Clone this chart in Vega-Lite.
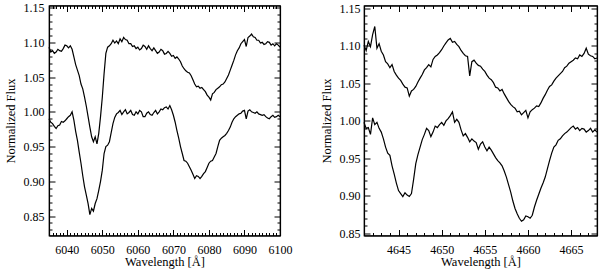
{
"$schema":"https://vega.github.io/schema/vega-lite/v6.json",
"padding":{"left":3,"top":0.5,"right":3,"bottom":0},
"spacing":84,
"bounds":"flush",
"config":{"font":"Liberation Serif, Times New Roman, serif","view":{"stroke":"black","strokeWidth":1.2},
"axis":{"labelFont":"Liberation Serif, Times New Roman, serif","titleFont":"Liberation Serif, Times New Roman, serif","labelFontSize":12,"titleFontSize":12.5,"titleFontWeight":"normal","labelColor":"black","titleColor":"black","tickColor":"black","domainColor":"black","grid":false,"labelOverlap":false,"labelFlush":false,"tickWidth":1,"domainWidth":1.2}},
"datasets":{
"a":[
{"w":6035,"u":1.093,"l":0.990},{"w":6035.5,"u":1.086,"l":0.985},{"w":6036,"u":1.088,"l":0.983},{"w":6036.5,"u":1.084,"l":0.979},{"w":6037,"u":1.086,"l":0.976},{"w":6037.5,"u":1.090,"l":0.980},{"w":6038,"u":1.088,"l":0.981},{"w":6038.5,"u":1.087,"l":0.986},{"w":6039,"u":1.091,"l":0.985},{"w":6039.5,"u":1.096,"l":0.987},{"w":6040,"u":1.095,"l":0.990},{"w":6040.5,"u":1.092,"l":0.993},{"w":6041,"u":1.095,"l":0.995},{"w":6041.5,"u":1.090,"l":1.000},{"w":6042,"u":1.079,"l":0.988},{"w":6042.5,"u":1.068,"l":0.972},{"w":6043,"u":1.060,"l":0.959},{"w":6043.5,"u":1.052,"l":0.942},{"w":6044,"u":1.040,"l":0.926},{"w":6044.5,"u":1.033,"l":0.908},{"w":6045,"u":1.021,"l":0.892},{"w":6045.5,"u":1.008,"l":0.880},{"w":6046,"u":0.993,"l":0.868},{"w":6046.5,"u":0.978,"l":0.852},{"w":6047,"u":0.964,"l":0.861},{"w":6047.5,"u":0.957,"l":0.857},{"w":6048,"u":0.964,"l":0.868},{"w":6048.5,"u":0.954,"l":0.875},{"w":6049,"u":0.969,"l":0.887},{"w":6049.5,"u":0.993,"l":0.900},{"w":6050,"u":1.021,"l":0.916},{"w":6050.5,"u":1.055,"l":0.940},{"w":6051,"u":1.084,"l":0.950},{"w":6051.5,"u":1.093,"l":0.952},{"w":6052,"u":1.095,"l":0.957},{"w":6052.5,"u":1.098,"l":0.970},{"w":6053,"u":1.103,"l":0.983},{"w":6053.5,"u":1.099,"l":0.992},{"w":6054,"u":1.102,"l":0.997},{"w":6054.5,"u":1.098,"l":0.999},{"w":6055,"u":1.105,"l":1.002},{"w":6055.5,"u":1.101,"l":0.996},{"w":6056,"u":1.107,"l":1.000},{"w":6056.5,"u":1.104,"l":1.003},{"w":6057,"u":1.103,"l":0.997},{"w":6057.5,"u":1.098,"l":0.999},{"w":6058,"u":1.098,"l":1.002},{"w":6058.5,"u":1.094,"l":0.996},{"w":6059,"u":1.095,"l":0.995},{"w":6059.5,"u":1.091,"l":1.000},{"w":6060,"u":1.093,"l":0.997},{"w":6060.5,"u":1.089,"l":1.002},{"w":6061,"u":1.091,"l":1.000},{"w":6061.5,"u":1.096,"l":0.993},{"w":6062,"u":1.094,"l":0.993},{"w":6062.5,"u":1.090,"l":0.998},{"w":6063,"u":1.095,"l":1.000},{"w":6063.5,"u":1.091,"l":0.996},{"w":6064,"u":1.088,"l":0.995},{"w":6064.5,"u":1.092,"l":0.999},{"w":6065,"u":1.088,"l":1.002},{"w":6065.5,"u":1.084,"l":0.997},{"w":6066,"u":1.086,"l":1.000},{"w":6066.5,"u":1.090,"l":1.004},{"w":6067,"u":1.088,"l":1.003},{"w":6067.5,"u":1.083,"l":1.006},{"w":6068,"u":1.084,"l":1.007},{"w":6068.5,"u":1.087,"l":1.004},{"w":6069,"u":1.084,"l":1.009},{"w":6069.5,"u":1.080,"l":1.003},{"w":6070,"u":1.081,"l":0.995},{"w":6070.5,"u":1.077,"l":0.985},{"w":6071,"u":1.079,"l":0.973},{"w":6071.5,"u":1.076,"l":0.962},{"w":6072,"u":1.072,"l":0.950},{"w":6072.5,"u":1.066,"l":0.940},{"w":6073,"u":1.062,"l":0.930},{"w":6073.5,"u":1.059,"l":0.929},{"w":6074,"u":1.057,"l":0.926},{"w":6074.5,"u":1.056,"l":0.921},{"w":6075,"u":1.052,"l":0.916},{"w":6075.5,"u":1.046,"l":0.910},{"w":6076,"u":1.040,"l":0.904},{"w":6076.5,"u":1.036,"l":0.908},{"w":6077,"u":1.037,"l":0.907},{"w":6077.5,"u":1.034,"l":0.904},{"w":6078,"u":1.035,"l":0.907},{"w":6078.5,"u":1.032,"l":0.911},{"w":6079,"u":1.029,"l":0.914},{"w":6079.5,"u":1.024,"l":0.920},{"w":6080,"u":1.021,"l":0.926},{"w":6080.5,"u":1.017,"l":0.929},{"w":6081,"u":1.026,"l":0.930},{"w":6081.5,"u":1.028,"l":0.935},{"w":6082,"u":1.032,"l":0.940},{"w":6082.5,"u":1.034,"l":0.950},{"w":6083,"u":1.036,"l":0.959},{"w":6083.5,"u":1.039,"l":0.962},{"w":6084,"u":1.040,"l":0.964},{"w":6084.5,"u":1.043,"l":0.966},{"w":6085,"u":1.048,"l":0.969},{"w":6085.5,"u":1.053,"l":0.973},{"w":6086,"u":1.060,"l":0.978},{"w":6086.5,"u":1.067,"l":0.985},{"w":6087,"u":1.074,"l":0.990},{"w":6087.5,"u":1.082,"l":0.993},{"w":6088,"u":1.088,"l":0.995},{"w":6088.5,"u":1.092,"l":0.997},{"w":6089,"u":1.098,"l":0.998},{"w":6089.5,"u":1.101,"l":1.001},{"w":6090,"u":1.104,"l":1.002},{"w":6090.5,"u":1.094,"l":0.990},{"w":6091,"u":1.107,"l":1.001},{"w":6091.5,"u":1.109,"l":1.003},{"w":6092,"u":1.112,"l":1.000},{"w":6092.5,"u":1.108,"l":0.999},{"w":6093,"u":1.107,"l":0.998},{"w":6093.5,"u":1.103,"l":1.000},{"w":6094,"u":1.103,"l":0.997},{"w":6094.5,"u":1.099,"l":0.996},{"w":6095,"u":1.100,"l":0.995},{"w":6095.5,"u":1.097,"l":0.996},{"w":6096,"u":1.098,"l":0.993},{"w":6096.5,"u":1.101,"l":0.991},{"w":6097,"u":1.100,"l":0.990},{"w":6097.5,"u":1.096,"l":0.993},{"w":6098,"u":1.098,"l":0.995},{"w":6098.5,"u":1.095,"l":0.992},{"w":6099,"u":1.098,"l":0.993},{"w":6099.5,"u":1.096,"l":0.995},{"w":6100,"u":1.093,"l":0.993}
],
"b":[
{"w":4641,"u":1.101,"l":0.998},{"w":4641.25,"u":1.094,"l":0.990},{"w":4641.5,"u":1.106,"l":0.991},{"w":4641.75,"u":1.099,"l":0.982},{"w":4642,"u":1.115,"l":1.004},{"w":4642.25,"u":1.126,"l":0.995},{"w":4642.5,"u":1.097,"l":0.998},{"w":4642.75,"u":1.103,"l":0.990},{"w":4643,"u":1.093,"l":0.985},{"w":4643.25,"u":1.088,"l":0.976},{"w":4643.5,"u":1.079,"l":0.965},{"w":4643.75,"u":1.076,"l":0.957},{"w":4644,"u":1.071,"l":0.954},{"w":4644.25,"u":1.075,"l":0.940},{"w":4644.5,"u":1.066,"l":0.929},{"w":4644.75,"u":1.061,"l":0.917},{"w":4645,"u":1.057,"l":0.907},{"w":4645.25,"u":1.054,"l":0.903},{"w":4645.5,"u":1.049,"l":0.899},{"w":4645.75,"u":1.045,"l":0.904},{"w":4646,"u":1.044,"l":0.901},{"w":4646.25,"u":1.033,"l":0.899},{"w":4646.5,"u":1.040,"l":0.903},{"w":4646.75,"u":1.042,"l":0.922},{"w":4647,"u":1.046,"l":0.943},{"w":4647.25,"u":1.052,"l":0.955},{"w":4647.5,"u":1.057,"l":0.965},{"w":4647.75,"u":1.062,"l":0.975},{"w":4648,"u":1.068,"l":0.982},{"w":4648.25,"u":1.071,"l":0.990},{"w":4648.5,"u":1.075,"l":0.987},{"w":4648.75,"u":1.072,"l":0.979},{"w":4649,"u":1.082,"l":0.985},{"w":4649.25,"u":1.086,"l":0.993},{"w":4649.5,"u":1.088,"l":0.991},{"w":4649.75,"u":1.091,"l":0.995},{"w":4650,"u":1.095,"l":0.998},{"w":4650.25,"u":1.100,"l":0.994},{"w":4650.5,"u":1.104,"l":1.000},{"w":4650.75,"u":1.108,"l":1.003},{"w":4651,"u":1.110,"l":1.007},{"w":4651.25,"u":1.105,"l":1.012},{"w":4651.5,"u":1.106,"l":0.998},{"w":4651.75,"u":1.102,"l":1.002},{"w":4652,"u":1.099,"l":0.998},{"w":4652.25,"u":1.094,"l":0.988},{"w":4652.5,"u":1.090,"l":0.980},{"w":4652.75,"u":1.087,"l":0.983},{"w":4653,"u":1.086,"l":0.978},{"w":4653.25,"u":1.060,"l":0.972},{"w":4653.5,"u":1.079,"l":0.976},{"w":4653.75,"u":1.081,"l":0.973},{"w":4654,"u":1.077,"l":0.971},{"w":4654.25,"u":1.074,"l":0.962},{"w":4654.5,"u":1.073,"l":0.969},{"w":4654.75,"u":1.069,"l":0.972},{"w":4655,"u":1.066,"l":0.965},{"w":4655.25,"u":1.061,"l":0.960},{"w":4655.5,"u":1.057,"l":0.965},{"w":4655.75,"u":1.055,"l":0.961},{"w":4656,"u":1.051,"l":0.956},{"w":4656.25,"u":1.045,"l":0.951},{"w":4656.5,"u":1.044,"l":0.947},{"w":4656.75,"u":1.040,"l":0.944},{"w":4657,"u":1.042,"l":0.940},{"w":4657.25,"u":1.036,"l":0.933},{"w":4657.5,"u":1.031,"l":0.925},{"w":4657.75,"u":1.026,"l":0.915},{"w":4658,"u":1.022,"l":0.905},{"w":4658.25,"u":1.019,"l":0.893},{"w":4658.5,"u":1.017,"l":0.883},{"w":4658.75,"u":1.012,"l":0.876},{"w":4659,"u":1.013,"l":0.870},{"w":4659.25,"u":1.008,"l":0.866},{"w":4659.5,"u":1.011,"l":0.868},{"w":4659.75,"u":1.014,"l":0.873},{"w":4660,"u":1.004,"l":0.872},{"w":4660.25,"u":1.012,"l":0.870},{"w":4660.5,"u":1.015,"l":0.874},{"w":4660.75,"u":1.017,"l":0.885},{"w":4661,"u":1.020,"l":0.894},{"w":4661.25,"u":1.019,"l":0.902},{"w":4661.5,"u":1.024,"l":0.910},{"w":4661.75,"u":1.030,"l":0.917},{"w":4662,"u":1.035,"l":0.925},{"w":4662.25,"u":1.041,"l":0.936},{"w":4662.5,"u":1.046,"l":0.947},{"w":4662.75,"u":1.048,"l":0.957},{"w":4663,"u":1.053,"l":0.965},{"w":4663.25,"u":1.057,"l":0.968},{"w":4663.5,"u":1.060,"l":0.974},{"w":4663.75,"u":1.063,"l":0.976},{"w":4664,"u":1.066,"l":0.980},{"w":4664.25,"u":1.071,"l":0.983},{"w":4664.5,"u":1.073,"l":0.985},{"w":4664.75,"u":1.077,"l":0.988},{"w":4665,"u":1.079,"l":0.991},{"w":4665.25,"u":1.081,"l":0.993},{"w":4665.5,"u":1.084,"l":0.989},{"w":4665.75,"u":1.083,"l":0.991},{"w":4666,"u":1.088,"l":0.987},{"w":4666.25,"u":1.086,"l":0.990},{"w":4666.5,"u":1.090,"l":0.989},{"w":4666.75,"u":1.097,"l":0.985},{"w":4667,"u":1.089,"l":0.987},{"w":4667.25,"u":1.087,"l":0.990},{"w":4667.5,"u":1.086,"l":0.985},{"w":4667.75,"u":1.083,"l":0.988},{"w":4668,"u":1.084,"l":0.985}
]},
"hconcat":[
{"width":231,"height":230,"data":{"name":"a"},
"layer":[
{"mark":{"type":"line","color":"black","strokeWidth":1.2},
"encoding":{
"x":{"field":"w","type":"quantitative","scale":{"domain":[6035,6100],"nice":false,"zero":false},
"axis":{"orient":"bottom","title":"Wavelength [Å]","format":"d","titlePadding":-2.5,"labelPadding":14.5,
"values":[6035,6036,6037,6038,6039,6040,6041,6042,6043,6044,6045,6046,6047,6048,6049,6050,6051,6052,6053,6054,6055,6056,6057,6058,6059,6060,6061,6062,6063,6064,6065,6066,6067,6068,6069,6070,6071,6072,6073,6074,6075,6076,6077,6078,6079,6080,6081,6082,6083,6084,6085,6086,6087,6088,6089,6090,6091,6092,6093,6094,6095,6096,6097,6098,6099,6100],
"labelExpr":"datum.value % 10 === 0 ? datum.label : ''",
"tickSize":{"condition":{"test":"datum.value % 10 === 0","value":-6},"value":-3}}},
"y":{"field":"u","type":"quantitative","scale":{"domain":[0.822,1.153],"nice":false,"zero":false},
"axis":{"orient":"left","title":"Normalized Flux","format":".2f","titlePadding":6,"labelPadding":11,
"values":[0.83,0.84,0.85,0.86,0.87,0.88,0.89,0.90,0.91,0.92,0.93,0.94,0.95,0.96,0.97,0.98,0.99,1.00,1.01,1.02,1.03,1.04,1.05,1.06,1.07,1.08,1.09,1.10,1.11,1.12,1.13,1.14,1.15],
"labelExpr":"abs(datum.value*20 - round(datum.value*20)) < 0.01 ? datum.label : ''",
"tickSize":{"condition":{"test":"abs(datum.value*20 - round(datum.value*20)) < 0.01","value":-6},"value":-3}}}}},
{"mark":{"type":"line","color":"black","strokeWidth":1.2},
"encoding":{
"x":{"field":"w","type":"quantitative","scale":{"domain":[6035,6100],"nice":false,"zero":false},
"axis":{"orient":"top","title":null,"labels":false,
"values":[6035,6036,6037,6038,6039,6040,6041,6042,6043,6044,6045,6046,6047,6048,6049,6050,6051,6052,6053,6054,6055,6056,6057,6058,6059,6060,6061,6062,6063,6064,6065,6066,6067,6068,6069,6070,6071,6072,6073,6074,6075,6076,6077,6078,6079,6080,6081,6082,6083,6084,6085,6086,6087,6088,6089,6090,6091,6092,6093,6094,6095,6096,6097,6098,6099,6100],
"tickSize":{"condition":{"test":"datum.value % 10 === 0","value":-6},"value":-3}}},
"y":{"field":"l","type":"quantitative","scale":{"domain":[0.822,1.153],"nice":false,"zero":false},
"axis":{"orient":"right","title":null,"labels":false,
"values":[0.83,0.84,0.85,0.86,0.87,0.88,0.89,0.90,0.91,0.92,0.93,0.94,0.95,0.96,0.97,0.98,0.99,1.00,1.01,1.02,1.03,1.04,1.05,1.06,1.07,1.08,1.09,1.10,1.11,1.12,1.13,1.14,1.15],
"tickSize":{"condition":{"test":"abs(datum.value*20 - round(datum.value*20)) < 0.01","value":-6},"value":-3}}}}}
],
"resolve":{"axis":{"x":"independent","y":"independent"}}},
{"width":233,"height":230,"data":{"name":"b"},
"layer":[
{"mark":{"type":"line","color":"black","strokeWidth":1.2},
"encoding":{
"x":{"field":"w","type":"quantitative","scale":{"domain":[4641,4668],"nice":false,"zero":false},
"axis":{"orient":"bottom","title":"Wavelength [Å]","format":"d","titlePadding":-2.5,"labelPadding":14.5,
"values":[4641,4642,4643,4644,4645,4646,4647,4648,4649,4650,4651,4652,4653,4654,4655,4656,4657,4658,4659,4660,4661,4662,4663,4664,4665,4666,4667,4668],
"labelExpr":"datum.value % 5 === 0 ? datum.label : ''",
"tickSize":{"condition":{"test":"datum.value % 5 === 0","value":-6},"value":-3}}},
"y":{"field":"u","type":"quantitative","scale":{"domain":[0.847,1.154],"nice":false,"zero":false},
"axis":{"orient":"left","title":"Normalized Flux","format":".2f","titlePadding":6,"labelPadding":10,
"values":[0.85,0.86,0.87,0.88,0.89,0.90,0.91,0.92,0.93,0.94,0.95,0.96,0.97,0.98,0.99,1.00,1.01,1.02,1.03,1.04,1.05,1.06,1.07,1.08,1.09,1.10,1.11,1.12,1.13,1.14,1.15],
"labelExpr":"abs(datum.value*20 - round(datum.value*20)) < 0.01 ? datum.label : ''",
"tickSize":{"condition":{"test":"abs(datum.value*20 - round(datum.value*20)) < 0.01","value":-6},"value":-3}}}}},
{"mark":{"type":"line","color":"black","strokeWidth":1.2},
"encoding":{
"x":{"field":"w","type":"quantitative","scale":{"domain":[4641,4668],"nice":false,"zero":false},
"axis":{"orient":"top","title":null,"labels":false,
"values":[4641,4642,4643,4644,4645,4646,4647,4648,4649,4650,4651,4652,4653,4654,4655,4656,4657,4658,4659,4660,4661,4662,4663,4664,4665,4666,4667,4668],
"tickSize":{"condition":{"test":"datum.value % 5 === 0","value":-6},"value":-3}}},
"y":{"field":"l","type":"quantitative","scale":{"domain":[0.847,1.154],"nice":false,"zero":false},
"axis":{"orient":"right","title":null,"labels":false,
"values":[0.85,0.86,0.87,0.88,0.89,0.90,0.91,0.92,0.93,0.94,0.95,0.96,0.97,0.98,0.99,1.00,1.01,1.02,1.03,1.04,1.05,1.06,1.07,1.08,1.09,1.10,1.11,1.12,1.13,1.14,1.15],
"tickSize":{"condition":{"test":"abs(datum.value*20 - round(datum.value*20)) < 0.01","value":-6},"value":-3}}}}}
],
"resolve":{"axis":{"x":"independent","y":"independent"}}}
]
}
